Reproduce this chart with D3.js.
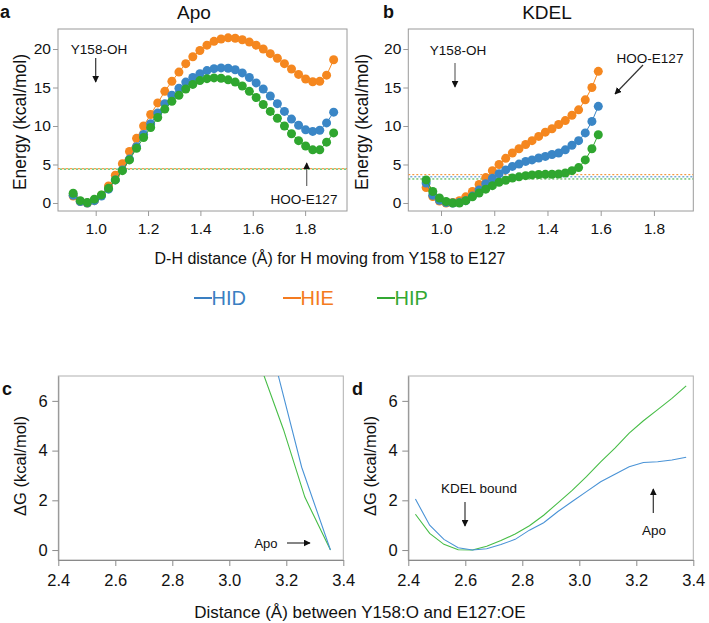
<!DOCTYPE html>
<html>
<head>
<meta charset="utf-8">
<script src="https://cdn.jsdelivr.net/npm/d3@7"></script>
<style>
  html, body { margin: 0; padding: 0; background: #fff; }
  svg { display: block; font-family: "Liberation Sans", Arial, sans-serif; }
</style>
</head>
<body>
<svg id="chart" width="709" height="623"></svg>
<script>
// ---------- DATA ----------
const seriesNames = ["HID", "HIE", "HIP"];
const seriesColors = { HID: "#3a86c6", HIE: "#f5871f", HIP: "#2fa62f" };
const legendColors = { HID: "#3a7fc2", HIE: "#f47b20", HIP: "#33a833" };
const lineColors = { HID: "#4a93d6", HIP: "#47bd47" };

// Panel a (Apo): D-H distance
const xApo = [0.914, 0.941, 0.968, 0.995, 1.022, 1.049, 1.075, 1.102, 1.129, 1.156,
              1.183, 1.210, 1.237, 1.264, 1.291, 1.318, 1.344, 1.371, 1.398, 1.425,
              1.452, 1.479, 1.506, 1.533, 1.560, 1.587, 1.613, 1.640, 1.667, 1.694,
              1.721, 1.748, 1.775, 1.802, 1.829, 1.856, 1.882, 1.909];
const apoHID = [1.0, 0.2, 0.0, 0.3, 0.9, 1.8, 3.0, 4.3, 5.7, 7.3,
                8.9, 10.3, 11.7, 12.9, 14.0, 14.9, 15.7, 16.3, 16.8, 17.2,
                17.45, 17.55, 17.5, 17.3, 16.9, 16.3, 15.6, 14.8, 13.9, 12.9,
                11.9, 10.9, 10.1, 9.5, 9.3, 9.45, 10.4, 11.8];
const apoHIE = [0.9, 0.2, 0.0, 0.3, 1.0, 2.2, 3.6, 5.1, 6.7, 8.4,
                10.0, 11.5, 13.0, 14.5, 15.8, 17.0, 18.1, 19.0, 19.8, 20.5,
                21.0, 21.3, 21.45, 21.4, 21.2, 20.9, 20.5, 20.0, 19.4, 18.8,
                18.1, 17.4, 16.7, 16.1, 15.75, 15.8, 16.6, 18.6];
const apoHIP = [1.26, 0.3, 0.05, 0.5, 1.05, 1.9, 3.0, 4.2, 5.6, 7.1,
                8.5, 9.8, 11.1, 12.2, 13.2, 14.0, 14.8, 15.4, 15.9, 16.15,
                16.25, 16.2, 16.0, 15.7, 15.2, 14.5, 13.7, 12.8, 11.9, 11.0,
                10.0, 9.0, 8.1, 7.4, 6.9, 6.9, 7.9, 9.1];
const apoRef = { HIE: 4.45, HIP: 4.4 };

// Panel b (KDEL)
const xKdel = [0.944, 0.969, 0.994, 1.019, 1.044, 1.069, 1.093, 1.118, 1.143, 1.168,
               1.193, 1.218, 1.243, 1.268, 1.293, 1.318, 1.342, 1.367, 1.392, 1.417,
               1.442, 1.467, 1.492, 1.517, 1.542, 1.567, 1.591];
const kdelHID = [2.6, 1.0, 0.35, 0.05, 0.0, 0.05, 0.3, 0.9, 1.7, 2.5,
                 3.2, 3.8, 4.3, 4.75, 5.05, 5.4, 5.6, 5.85, 6.05, 6.3,
                 6.5, 6.9, 7.5, 8.1, 9.1, 10.6, 12.55];
const kdelHIE = [2.0, 0.85, 0.25, 0.0, 0.05, 0.3, 0.8, 1.5, 2.4, 3.3,
                 4.2, 5.0, 5.8, 6.5, 7.05, 7.6, 8.1, 8.65, 9.2, 9.65,
                 10.2, 10.7, 11.4, 12.1, 13.4, 15.0, 17.1];
const kdelHIP = [3.0, 1.5, 0.65, 0.2, 0.0, 0.0, 0.3, 0.8, 1.3, 1.8,
                 2.25, 2.7, 2.95, 3.25, 3.4, 3.55, 3.65, 3.7, 3.72, 3.74,
                 3.76, 3.9, 4.2, 4.6, 5.6, 7.05, 8.87];
const kdelRef = { HIE: 3.68, HID: 3.4, HIP: 3.12 };

const xTicksAB = [1.0, 1.2, 1.4, 1.6, 1.8];
const yTicksAB = [0, 5, 10, 15, 20];

// Panel c (Apo free energy)
const cHID = [[3.15, 8.0], [3.254, 3.33], [3.355, 0]];
const cHIP = [[3.10, 7.7], [3.19, 4.85], [3.265, 2.13], [3.355, 0]];
// Panel d (KDEL free energy)
const dX   = [2.425, 2.475, 2.525, 2.575, 2.625, 2.675, 2.725, 2.775, 2.825, 2.875,
              2.925, 2.975, 3.025, 3.075, 3.125, 3.175, 3.225, 3.275, 3.325, 3.375];
const dHID = [2.05, 1.0, 0.43, 0.09, 0.0, 0.05, 0.22, 0.43, 0.8, 1.1,
              1.55, 1.95, 2.35, 2.75, 3.05, 3.35, 3.52, 3.55, 3.62, 3.73];
const dHIP = [1.44, 0.67, 0.23, 0.01, 0.0, 0.15, 0.38, 0.65, 0.98, 1.4,
              1.9, 2.4, 2.95, 3.55, 4.1, 4.7, 5.2, 5.65, 6.1, 6.6];
const xTicksCD = [2.4, 2.6, 2.8, 3.0, 3.2, 3.4];
const yTicksCD = [0, 2, 4, 6];

// ---------- DRAW ----------
const svg = d3.select("#chart");
const defs = svg.append("defs");
defs.append("marker").attr("id", "arr").attr("viewBox", "0 0 10 10")
  .attr("refX", 9).attr("refY", 5).attr("markerWidth", 7).attr("markerHeight", 7)
  .attr("markerUnits", "userSpaceOnUse").attr("orient", "auto")
  .append("path").attr("d", "M0,0 L10,5 L0,10 Z").attr("fill", "#111");

const frameColor = "#9a9a9a";

function arrow(g, x1, y1, x2, y2, col) {
  g.append("line").attr("x1", x1).attr("y1", y1).attr("x2", x2).attr("y2", y2)
    .attr("stroke", col || "#333").attr("stroke-width", 1.2).attr("marker-end", "url(#arr)");
}
function txt(g, x, y, s, size, anchor, extra) {
  const t = g.append("text").attr("x", x).attr("y", y).text(s)
    .attr("font-size", size).attr("text-anchor", anchor || "start").attr("fill", "#111");
  if (extra) extra(t);
  return t;
}

function energyPanel(opts) {
  const { x0, x1, y0, y1, xDom, yDom, xs, series, refs, id, labelOff } = opts;
  const x = d3.scaleLinear().domain(xDom).range([x0, x1]);
  const y = d3.scaleLinear().domain(yDom).range([y1, y0]);
  const g = svg.append("g");
  g.append("clipPath").attr("id", id).append("rect")
    .attr("x", x0).attr("y", y0).attr("width", x1 - x0).attr("height", y1 - y0);
  // axes
  const xa = g.append("g").attr("transform", `translate(0,${y1})`)
    .call(d3.axisBottom(x).tickValues(xTicksAB).tickFormat(d3.format(".1f"))
      .tickSize(5).tickPadding(3).tickSizeOuter(0));
  const ya = g.append("g").attr("transform", `translate(${x0},0)`)
    .call(d3.axisLeft(y).tickValues(yTicksAB).tickSize(5).tickPadding(2).tickSizeOuter(0));
  [xa, ya].forEach(a => {
    a.select(".domain").remove();
    a.selectAll(".tick line").attr("stroke", frameColor);
    a.selectAll(".tick text").attr("font-size", 15.5).attr("fill", "#111")
      .attr("font-family", "Liberation Sans, Arial, sans-serif");
  });
  xa.selectAll(".tick text").attr("dy", "0.95em");
  g.append("rect").attr("x", x0).attr("y", y0).attr("width", x1 - x0).attr("height", y1 - y0)
    .attr("fill", "none").attr("stroke", frameColor).attr("stroke-width", 1);
  // reference dotted lines
  const inner = g.append("g").attr("clip-path", `url(#${id})`);
  Object.keys(refs).forEach((k, i) => {
    inner.append("line").attr("x1", x0).attr("x2", x1)
      .attr("y1", y(refs[k])).attr("y2", y(refs[k]))
      .attr("stroke", seriesColors[k]).attr("stroke-width", 1)
      .attr("stroke-dasharray", "2,2").attr("stroke-dashoffset", i * 2);
  });
  // series
  const line = d3.line().x((d, i) => x(xs[i])).y(d => y(d));
  ["HIE", "HID", "HIP"].forEach(k => {
    const vals = series[k];
    inner.append("path").attr("d", line(vals)).attr("fill", "none")
      .attr("stroke", seriesColors[k]).attr("stroke-width", 1);
    inner.selectAll(null).data(vals).enter().append("circle")
      .attr("cx", (d, i) => x(xs[i])).attr("cy", d => y(d)).attr("r", 4.5)
      .attr("fill", seriesColors[k]);
  });
  // y label
  txt(g, 0, 0, "Energy (kcal/mol)", 17.5, "middle",
      t => t.attr("transform", `translate(${x0 - labelOff},${(y0 + y1) / 2 + 2}) rotate(-90)`));
  return { g, x, y };
}

energyPanel({ id: "clipA", x0: 58, x1: 347, y0: 29, y1: 211, labelOff: 32.5,
  xDom: [0.856, 1.96], yDom: [-1.04, 22.6], xs: xApo,
  series: { HID: apoHID, HIE: apoHIE, HIP: apoHIP }, refs: apoRef });
energyPanel({ id: "clipB", x0: 408.3, x1: 693.3, y0: 29, y1: 211, labelOff: 40,
  xDom: [0.877, 1.948], yDom: [-1.04, 22.6], xs: xKdel,
  series: { HID: kdelHID, HIE: kdelHIE, HIP: kdelHIP }, refs: kdelRef });

// titles & panel letters
txt(svg, 0, 18, "a", 18, "start", t => t.attr("font-weight", "bold"));
txt(svg, 383, 18, "b", 18, "start", t => t.attr("font-weight", "bold"));
txt(svg, 194, 19, "Apo", 19, "middle");
txt(svg, 547, 19, "KDEL", 19, "middle");

// annotations a
txt(svg, 99, 54, "Y158-OH", 13.5, "middle");
arrow(svg, 95.7, 58, 95.7, 82);
txt(svg, 304, 204, "HOO-E127", 13.5, "middle");
arrow(svg, 306.7, 186, 306.7, 163, "#666");
// annotations b
txt(svg, 458, 55, "Y158-OH", 13.5, "middle");
arrow(svg, 455, 63, 455, 87, "#666");
txt(svg, 650, 63, "HOO-E127", 13.5, "middle");
arrow(svg, 643, 65, 615, 94);

// shared x label & legend
txt(svg, 330, 264, "D-H distance (Å) for H moving from Y158 to E127", 16, "middle");
const legX = { HID: 194, HIE: 283, HIP: 377 };
seriesNames.forEach(k => {
  svg.append("line").attr("x1", legX[k]).attr("x2", legX[k] + 18)
    .attr("y1", 298).attr("y2", 298).attr("stroke", legendColors[k]).attr("stroke-width", 2);
  txt(svg, legX[k] + 17.5, 304.5, k, 20, "start", t => t.attr("fill", legendColors[k]));
});

// ---------- panels c & d ----------
function dgPanel(opts) {
  const { x0, x1, y0, y1, lines, id } = opts;
  const x = d3.scaleLinear().domain([2.4, 3.4]).range([x0, x1]);
  const y = d3.scaleLinear().domain([-0.4, 7]).range([y1, y0]);
  const g = svg.append("g");
  g.append("clipPath").attr("id", id).append("rect")
    .attr("x", x0).attr("y", y0).attr("width", x1 - x0).attr("height", y1 - y0);
  g.append("rect").attr("x", x0).attr("y", y0).attr("width", x1 - x0).attr("height", y1 - y0)
    .attr("fill", "none").attr("stroke", "#b0b0b0").attr("stroke-width", 1);
  const xa = g.append("g").attr("transform", `translate(0,${y1})`)
    .call(d3.axisBottom(x).tickValues(xTicksCD).tickFormat(d3.format(".1f")).tickSize(6).tickSizeOuter(0));
  const ya = g.append("g").attr("transform", `translate(${x0},0)`)
    .call(d3.axisLeft(y).tickValues(yTicksCD).tickSize(6).tickSizeOuter(0));
  [xa, ya].forEach(a => {
    a.select(".domain").attr("stroke", "#8a8a8a");
    a.selectAll(".tick line").attr("stroke", "#8a8a8a");
    a.selectAll(".tick text").attr("font-size", 16.5).attr("fill", "#111")
      .attr("font-family", "Liberation Sans, Arial, sans-serif");
  });
  xa.selectAll(".tick text").attr("dy", "1.0em");
  ya.selectAll(".tick text").attr("dx", "-0.1em");
  const inner = g.append("g").attr("clip-path", `url(#${id})`);
  const ln = d3.line().x(d => x(d[0])).y(d => y(d[1]));
  lines.forEach(l => {
    inner.append("path").attr("d", ln(l.pts)).attr("fill", "none")
      .attr("stroke", l.col).attr("stroke-width", 1.1);
  });
  txt(g, 0, 0, "ΔG (kcal/mol)", 16.5, "middle",
      t => t.attr("transform", `translate(${x0 - 32.5},${(y0 + y1) / 2 - 2}) rotate(-90)`));
  return { x, y };
}
dgPanel({ id: "clipC", x0: 58.3, x1: 343.3, y0: 376, y1: 560,
  lines: [{ pts: cHIP, col: lineColors.HIP }, { pts: cHID, col: lineColors.HID }] });
dgPanel({ id: "clipD", x0: 408.3, x1: 693.3, y0: 376, y1: 560,
  lines: [{ pts: dX.map((v, i) => [v, dHIP[i]]), col: lineColors.HIP },
          { pts: dX.map((v, i) => [v, dHID[i]]), col: lineColors.HID }] });

txt(svg, 2, 395, "c", 18, "start", t => t.attr("font-weight", "bold"));
txt(svg, 352, 395, "d", 18, "start", t => t.attr("font-weight", "bold"));
txt(svg, 266, 547.5, "Apo", 13, "middle");
arrow(svg, 287, 543, 310, 543);
txt(svg, 479, 493, "KDEL bound", 13.5, "middle");
arrow(svg, 465, 502, 465, 526);
txt(svg, 654, 535, "Apo", 13.5, "middle");
arrow(svg, 653.3, 513, 653.3, 489);
txt(svg, 360, 618, "Distance (Å) between Y158:O and E127:OE", 17, "middle");
</script>
</body>
</html>
